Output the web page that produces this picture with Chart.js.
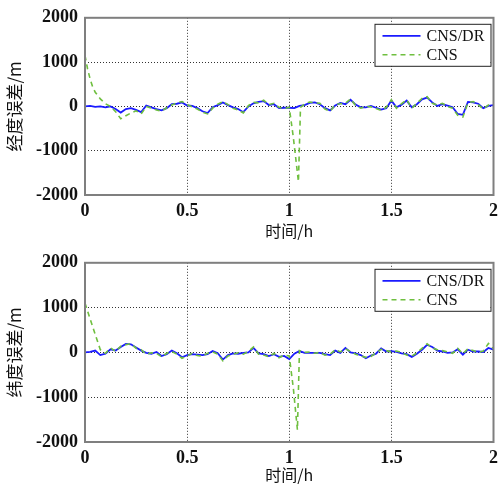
<!DOCTYPE html>
<html>
<head>
<meta charset="utf-8">
<script src="https://cdn.jsdelivr.net/npm/chart.js@4/dist/chart.umd.min.js"></script>
<style>
  body { margin: 0; background: #fff; }
  canvas { display: block; }
</style>
</head>
<body>
<canvas id="lonChart" width="504" height="245"></canvas>
<canvas id="latChart" width="504" height="244"></canvas>
<script>
// time axis (h) for the CNS/DR curves
var drHours = [0,0.025,0.05,0.075,0.1,0.125,0.15,0.175,0.2,0.225,
  0.25,0.275,0.3,0.325,0.35,0.375,0.4,0.425,0.45,0.475,
  0.5,0.525,0.55,0.575,0.6,0.625,0.65,0.675,0.7,0.725,
  0.75,0.775,0.8,0.825,0.85,0.875,0.9,0.925,0.95,0.975,
  1.0,1.025,1.05,1.075,1.1,1.125,1.15,1.175,1.2,1.225,
  1.25,1.275,1.3,1.325,1.35,1.375,1.4,1.425,1.45,1.475,
  1.5,1.525,1.55,1.575,1.6,1.625,1.65,1.675,1.7,1.725,
  1.75,1.775,1.8,1.825,1.85,1.875,1.9,1.925,1.95,1.975,2.0];

// longitude error, CNS/DR (m)
var drLon = [0,10,-10,0,-20,0,-60,-140,-60,-40,
  -80,-130,20,-20,-60,-90,-40,50,60,90,
  20,10,-40,-110,-150,-20,30,90,30,-20,
  -60,-130,0,70,100,120,30,50,-40,-30,
  -30,-40,10,30,80,90,50,-40,-90,20,
  80,50,150,40,-20,-20,10,-30,-70,-40,
  130,-20,40,130,-20,50,160,200,90,10,
  50,20,-20,-170,-190,100,90,60,-40,10,30];

// latitude error, CNS/DR (m)
var drLat = [0,10,40,-60,-30,70,40,120,190,180,
  110,40,-10,-30,10,-80,-40,40,-20,-110,
  -60,-40,-50,-60,-40,30,-20,-160,-60,-20,
  -30,-10,0,100,-20,-40,-80,-40,-100,-80,
  -150,-30,30,-10,-10,-10,-10,-40,-60,40,
  -10,100,0,-20,-60,-130,-70,-30,90,20,
  30,10,-20,-40,-100,-30,60,170,120,40,
  20,-10,0,70,-50,60,20,20,10,100,60];

// CNS only, longitude
var cnsLonHours = [0,0.0125,0.025,0.0375,0.05,0.075,0.1,0.125,0.15,0.175,0.2,0.225,
  0.25,0.275,0.3,0.325,0.35,0.375,0.4,0.425,0.45,0.475,
  0.5,0.525,0.55,0.575,0.6,0.625,0.65,0.675,0.7,0.725,
  0.75,0.775,0.8,0.825,0.85,0.875,0.9,0.925,0.95,0.975,
  1.0,1.02,1.045,1.055,1.075,1.1,1.125,1.15,1.175,1.2,1.225,
  1.25,1.275,1.3,1.325,1.35,1.375,1.4,1.425,1.45,1.475,
  1.5,1.525,1.55,1.575,1.6,1.625,1.65,1.675,1.7,1.725,
  1.75,1.775,1.8,1.825,1.85,1.875,1.9,1.925,1.95,1.975,2.0];
var cnsLon = [1150,850,620,440,320,170,60,0,-120,-280,-210,-150,
  -100,-170,0,-40,-80,-110,-30,30,80,110,
  40,-10,-60,-130,-170,-40,50,110,40,-40,
  -80,-150,20,90,80,140,40,70,-20,-50,
  -20,-700,-1700,-20,50,100,80,70,-60,-110,40,
  60,70,170,20,-40,0,-10,-50,-90,-20,
  150,-40,60,150,-40,70,180,220,70,30,
  70,0,-40,-200,-240,80,110,40,-60,30,40];

// CNS only, latitude
var cnsLatHours = [0,0.025,0.05,0.075,0.1,0.125,0.15,0.175,0.2,0.225,
  0.25,0.275,0.3,0.325,0.35,0.375,0.4,0.425,0.45,0.475,
  0.5,0.525,0.55,0.575,0.6,0.625,0.65,0.675,0.7,0.725,
  0.75,0.775,0.8,0.825,0.85,0.875,0.9,0.925,0.95,0.975,
  1.0,1.02,1.04,1.05,1.075,1.1,1.125,1.15,1.175,1.2,1.225,
  1.25,1.275,1.3,1.325,1.35,1.375,1.4,1.425,1.45,1.475,
  1.5,1.525,1.55,1.575,1.6,1.625,1.65,1.675,1.7,1.725,
  1.75,1.775,1.8,1.825,1.85,1.875,1.9,1.925,1.95,1.975,2.0];
var cnsLat = [1100,750,400,60,-20,100,20,140,170,200,
  90,60,-40,-10,-20,-100,-20,20,-40,-130,
  -80,-20,-70,-80,-20,10,-40,-190,-80,-40,
  -10,-40,20,120,-40,-60,-100,-20,-120,-60,
  -80,-800,-1730,40,0,10,-20,0,-60,-40,60,
  10,80,20,-40,-80,-110,-90,-10,70,40,
  10,30,0,-60,-80,-10,90,190,100,60,
  40,10,-20,90,-30,80,40,0,30,200,80];

var xTicks = [0, 0.5, 1, 1.5, 2];
var yTicks = [-2000, -1000, 0, 1000, 2000];

function pts(xs, ys) {
  return xs.map(function (x, i) { return { x: x, y: ys[i] }; });
}

// grey frame around the plot + boxed legend in the top right corner
var frameLegend = {
  id: 'frameLegend',
  afterDraw: function (chart) {
    var ctx = chart.ctx, a = chart.chartArea;
    ctx.save();
    ctx.strokeStyle = '#7f7f7f';
    ctx.lineWidth = 2;
    ctx.setLineDash([]);
    ctx.strokeRect(a.left, a.top, a.right - a.left, a.bottom - a.top);

    var w = 116, h = 42;
    var bx = a.right - 3 - w, by = a.top + 6;
    ctx.fillStyle = '#fff';
    ctx.fillRect(bx, by, w, h);
    ctx.strokeStyle = '#222';
    ctx.lineWidth = 1;
    ctx.strokeRect(bx + 0.5, by + 0.5, w, h);
    ctx.font = '16px "Liberation Serif", serif';
    ctx.textBaseline = 'middle';
    chart.data.datasets.forEach(function (ds, i) {
      var y = by + 12 + i * 19;
      ctx.strokeStyle = ds.borderColor;
      ctx.lineWidth = ds.borderWidth;
      ctx.setLineDash(ds.borderDash || []);
      ctx.beginPath();
      ctx.moveTo(bx + 8, y);
      ctx.lineTo(bx + 46, y);
      ctx.stroke();
      ctx.setLineDash([]);
      ctx.fillStyle = '#111';
      ctx.fillText(ds.label, bx + 52, y + 1);
    });
    ctx.restore();
  }
};

function makeChart(id, yTitle, dr, cnsX, cns, padTop, xHeight) {
  return new Chart(document.getElementById(id), {
    type: 'line',
    data: {
      datasets: [{
        label: 'CNS/DR',
        data: pts(drHours, dr),
        borderColor: '#1a1aff',
        borderWidth: 1.8,
        pointRadius: 0,
        tension: 0,
        order: 2
      }, {
        label: 'CNS',
        data: pts(cnsX, cns),
        borderColor: '#6fbf3f',
        borderWidth: 1.6,
        borderDash: [5, 4],
        pointRadius: 0,
        tension: 0,
        order: 1
      }]
    },
    options: {
      responsive: false,
      animation: false,
      layout: { padding: { top: padTop, right: 4, left: 0, bottom: 0 } },
      plugins: { legend: { display: false }, tooltip: { enabled: false } },
      scales: {
        x: {
          type: 'linear',
          min: 0, max: 2,
          afterBuildTicks: function (s) { s.ticks = xTicks.map(function (v) { return { value: v }; }); },
          afterFit: function (s) { s.height = xHeight; },
          grid: { color: 'rgba(0,0,0,0.8)', lineWidth: 1, drawTicks: false },
          border: { display: false, dash: [1, 2] },
          ticks: {
            padding: 6,
            color: '#111',
            font: { family: '"Liberation Serif", serif', size: 18, weight: 'bold' },
            callback: function (v) { return String(v); }
          },
          title: {
            display: true,
            text: '时间/h',
            color: '#111',
            padding: { top: 0, bottom: 4 },
            font: { family: '"Noto Sans CJK SC", sans-serif', size: 16 }
          }
        },
        y: {
          min: -2000, max: 2000,
          afterBuildTicks: function (s) { s.ticks = yTicks.map(function (v) { return { value: v }; }); },
          afterFit: function (s) { s.width = 85; },
          grid: { color: 'rgba(0,0,0,0.8)', lineWidth: 1, drawTicks: false },
          border: { display: false, dash: [1, 2] },
          ticks: {
            padding: 7,
            color: '#111',
            font: { family: '"Liberation Serif", serif', size: 18, weight: 'bold' },
            callback: function (v) { return String(v); }
          },
          title: {
            display: true,
            text: yTitle,
            color: '#111',
            padding: { top: 4, bottom: 0 },
            font: { family: '"Noto Sans CJK SC", sans-serif', size: 17 }
          }
        }
      }
    },
    plugins: [frameLegend]
  });
}

makeChart('lonChart', '经度误差/m', drLon, cnsLonHours, cnsLon, 14, 50);
makeChart('latChart', '纬度误差/m', drLat, cnsLatHours, cnsLat, 17, 47);
</script>
</body>
</html>
